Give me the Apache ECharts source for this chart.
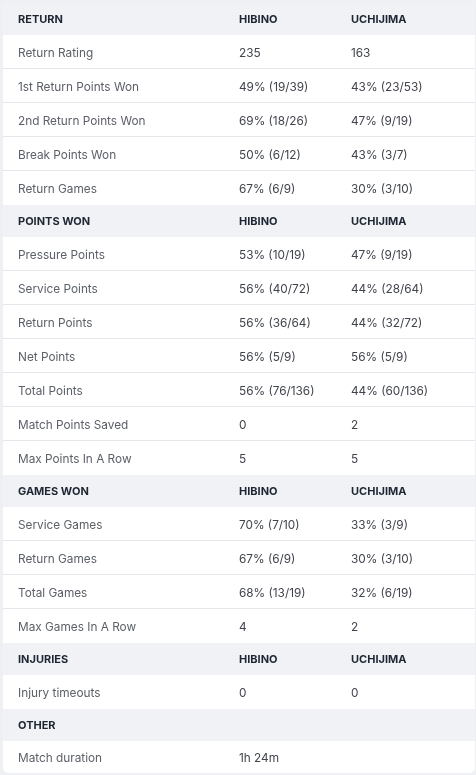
<!DOCTYPE html>
<html>
<head>
<meta charset="utf-8">
<script src="https://cdn.jsdelivr.net/npm/echarts@6/dist/echarts.min.js"></script>
<style>
html,body{margin:0;padding:0;background:#eef0f4;}
#c{width:476px;height:775px;}
</style>
</head>
<body>
<div id="c"></div>
<script>
var rowLabels = ['RETURN','Return Rating','1st Return Points Won','2nd Return Points Won','Break Points Won','Return Games',
  'POINTS WON','Pressure Points','Service Points','Return Points','Net Points','Total Points','Match Points Saved','Max Points In A Row',
  'GAMES WON','Service Games','Return Games','Total Games','Max Games In A Row',
  'INJURIES','Injury timeouts','OTHER','Match duration'];
var hibinoValues = ['HIBINO','235','49% (19/39)','69% (18/26)','50% (6/12)','67% (6/9)',
  'HIBINO','53% (10/19)','56% (40/72)','56% (36/64)','56% (5/9)','56% (76/136)','0','5',
  'HIBINO','70% (7/10)','67% (6/9)','68% (13/19)','4',
  'HIBINO','0','','1h 24m'];
var uchijimaValues = ['UCHIJIMA','163','43% (23/53)','47% (9/19)','43% (3/7)','30% (3/10)',
  'UCHIJIMA','47% (9/19)','44% (28/64)','44% (32/72)','56% (5/9)','44% (60/136)','2','5',
  'UCHIJIMA','33% (3/9)','30% (3/10)','32% (6/19)','2',
  'UCHIJIMA','0','',''];
var headerRows = [0, 6, 14, 19, 21];

// layout: relative row heights (header / data / last row)
var HEADER_UNITS = 32, DATA_UNITS = 34, LAST_UNITS = 32;
var rows = [];
var acc = 0;
for (var i = 0; i < rowLabels.length; i++) {
  var h = headerRows.indexOf(i) >= 0 ? HEADER_UNITS : (i === rowLabels.length - 1 ? LAST_UNITS : DATA_UNITS);
  rows.push([i, acc, acc + h]);
  acc += h;
}
var total = acc;

var chart = echarts.init(document.getElementById('c'), null, {renderer: 'canvas'});
chart.setOption({
  backgroundColor: '#eef0f4',
  animation: false,
  grid: {left: 3, right: 1, top: 3, bottom: 2},
  xAxis: {type: 'value', min: 0, max: 1, show: false},
  yAxis: {type: 'value', min: 0, max: total, inverse: true, show: false},
  series: [{
    type: 'custom',
    data: rows,
    encode: {y: [1, 2]},
    renderItem: function (params, api) {
      var idx = api.value(0);
      var cs = params.coordSys;
      var y0 = api.coord([0, api.value(1)])[1];
      var y1 = api.coord([0, api.value(2)])[1];
      var isHeader = headerRows.indexOf(idx) >= 0;
      var isLast = idx === rowLabels.length - 1;
      var nextHeader = headerRows.indexOf(idx + 1) >= 0;
      var yc = (y0 + y1) / 2 + (isHeader ? 0.5 : 1);
      var children = [];
      children.push({
        type: 'rect',
        shape: {x: cs.x, y: y0, width: cs.width, height: y1 - y0, r: isLast ? [0, 0, 5, 5] : 0},
        style: {fill: isHeader ? '#f0f2f6' : '#ffffff'}
      });
      if (!isHeader && !isLast && !nextHeader) {
        children.push({
          type: 'line',
          shape: {x1: cs.x, y1: Math.round(y1) - 0.5, x2: cs.x + cs.width, y2: Math.round(y1) - 0.5},
          style: {stroke: '#e4e6ea', lineWidth: 1}
        });
      }
      var font = isHeader ? 'bold 11px Inter' : '11.8px Inter';
      var texts = [
        [rowLabels[idx], 15, isHeader ? '#1e2633' : '#5c6068'],
        [hibinoValues[idx], 236, isHeader ? '#1e2633' : '#40444c'],
        [uchijimaValues[idx], 348, isHeader ? '#1e2633' : '#40444c']
      ];
      texts.forEach(function (t) {
        if (!t[0]) return;
        children.push({
          type: 'text',
          style: {text: t[0], x: cs.x + t[1], y: yc, font: font, fill: t[2], textAlign: 'left', textVerticalAlign: 'middle'}
        });
      });
      return {type: 'group', children: children};
    }
  }]
});
</script>
</body>
</html>
